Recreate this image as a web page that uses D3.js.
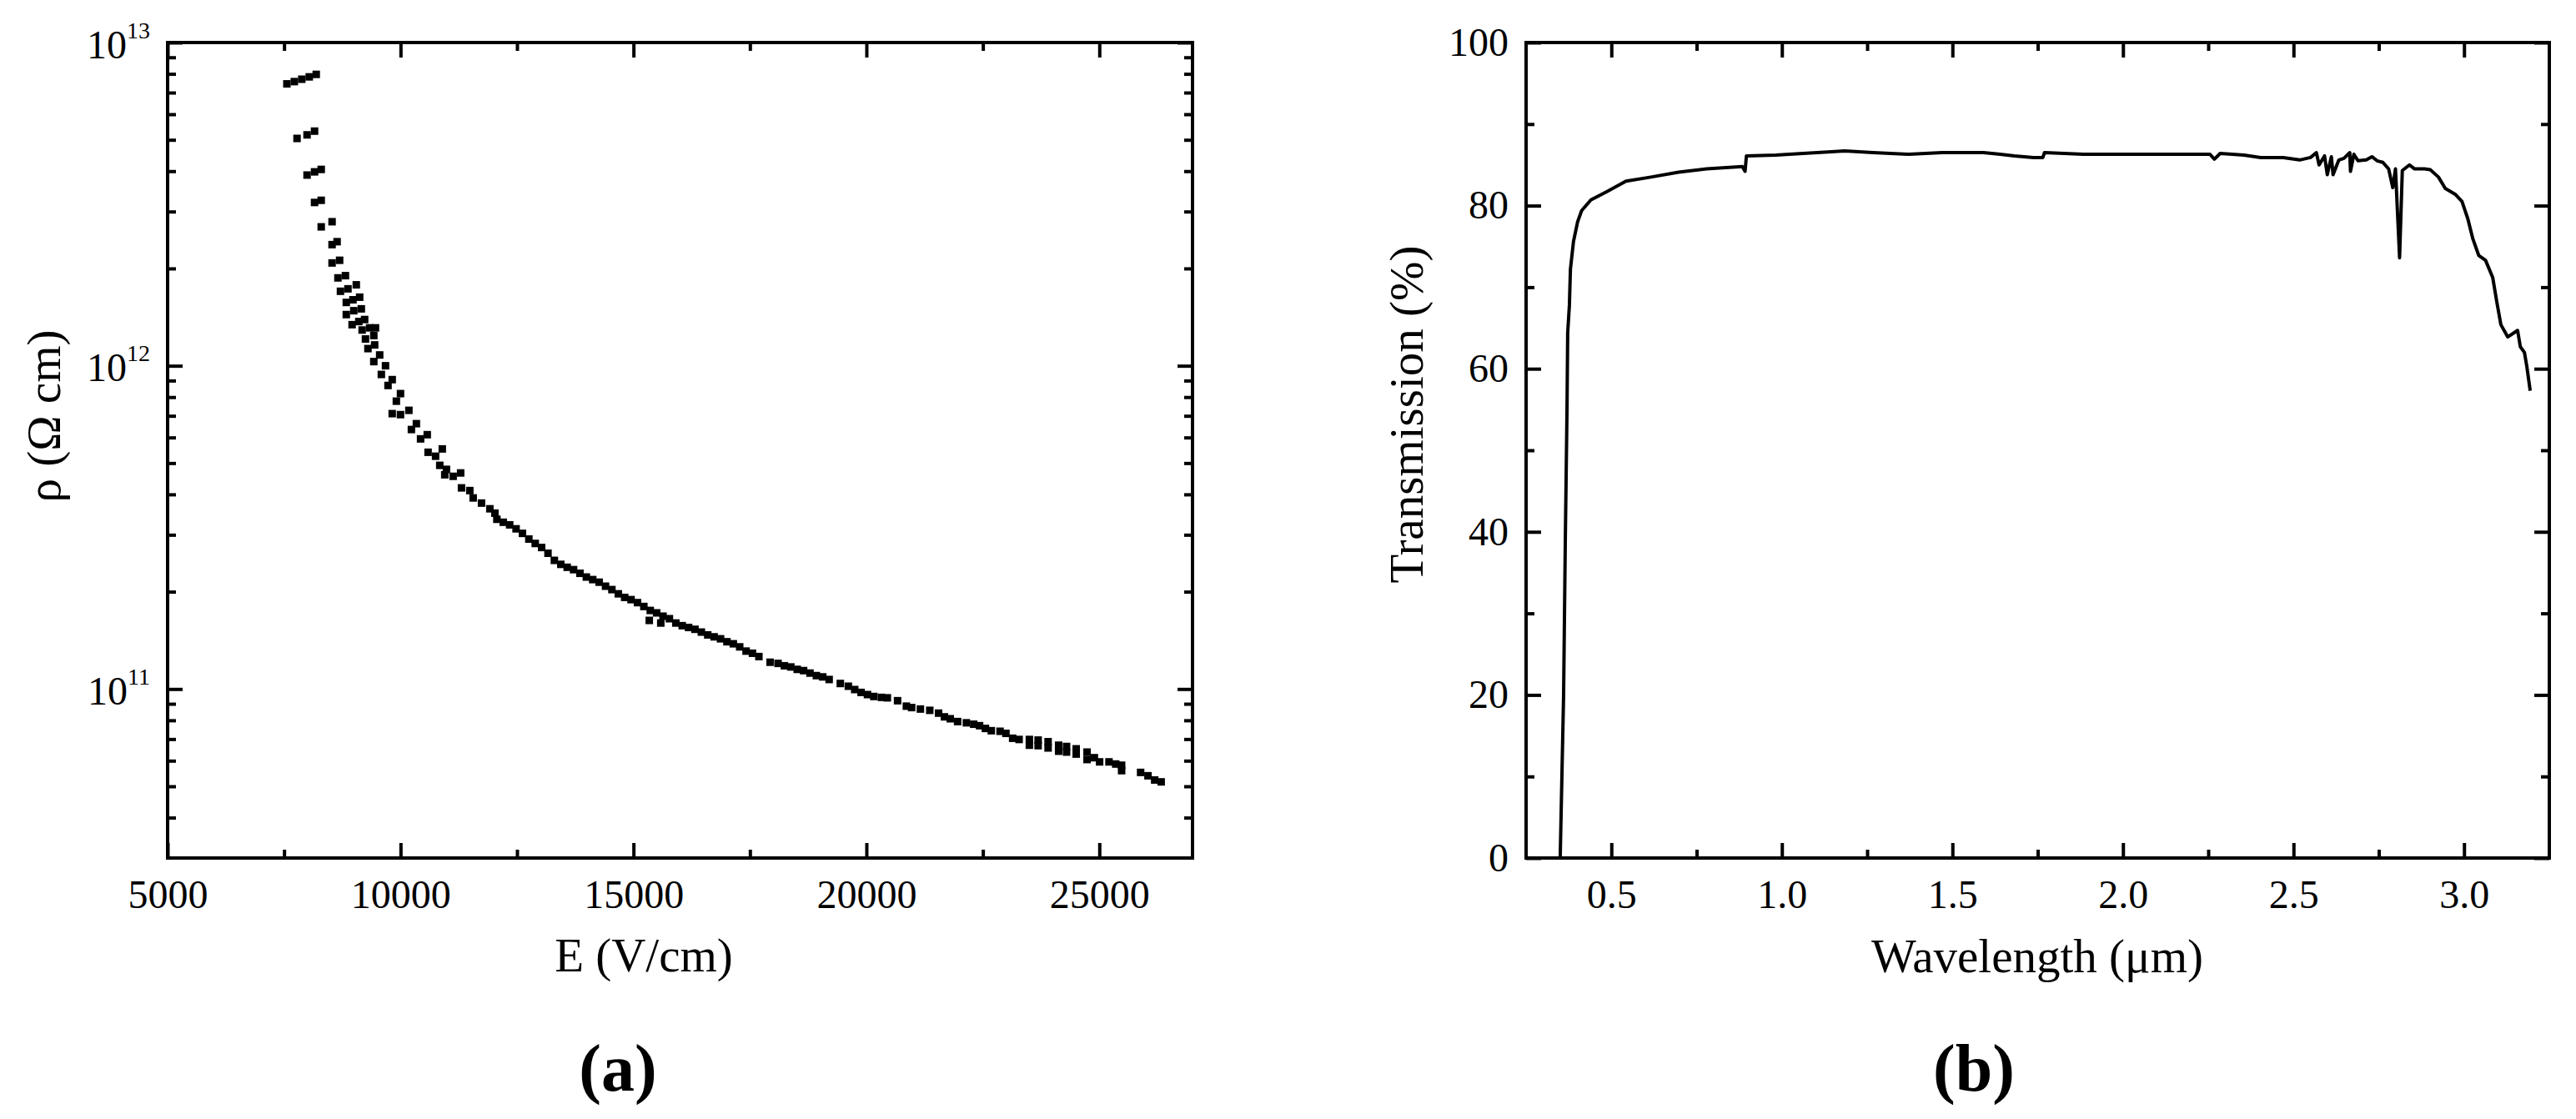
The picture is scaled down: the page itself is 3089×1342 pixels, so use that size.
<!DOCTYPE html>
<html>
<head>
<meta charset="utf-8">
<script src="https://cdnjs.cloudflare.com/ajax/libs/d3/7.8.5/d3.min.js"></script>
<style>
  html, body { margin: 0; padding: 0; background: #fff; }
  svg text { font-family: "Liberation Serif", "Times New Roman", serif; fill: #000; }
</style>
</head>
<body>
<svg id="chart"></svg>
<script>
// panel (a): resistivity vs electric field
const fieldE = [
  7560, 7720, 7880, 8040, 8190,
  7778, 7993, 8154,
  7993, 8154, 8297,
  8154, 8297, 8297, 8530,
  8530, 8638, 8530, 8692, 8656, 8817,
  8710, 8871, 9050, 8835, 8978, 9122,
  8835, 8996, 9158, 8960, 9104, 9229,
  9175, 9336, 9462, 9247, 9426, 9300, 9444,
  9426, 9552, 9588, 9677, 9731, 9821, 9821,
  9910, 9999, 9999, 10179, 10233, 10340, 10430, 10573,
  10591, 10752, 10896, 10842, 10985, 10949, 11129, 11290,
  11308, 11487, 11559, 11738, 11917, 12025,
  12068, 12205, 12342, 12480, 12617, 12754, 12891, 13028, 13165, 13302,
  13440, 13577, 13714, 13851, 13988, 14125, 14263, 14400, 14537, 14674,
  14811, 14948, 15086, 15223, 15360, 15497, 15634, 15771, 15909, 16046,
  16183, 16320, 16457, 16594, 16731, 16869, 17006, 17143, 17280, 17417,
  17554, 17692, 17932, 18103, 18240, 18377, 18515, 18652, 18789, 18926,
  19063, 19200, 19440, 19612, 19749, 19886, 20023, 20160,
  15339, 15586,
  20323, 20449, 20669, 20858, 20971, 21159, 21360, 21549, 21675, 21800,
  21958, 22146, 22303, 22429, 22555, 22681, 22869, 22995, 23139, 23278,
  23498, 23498, 23686, 23686, 23900, 23900, 24126, 24126, 24296, 24296,
  24503, 24503, 24736, 24736, 24893, 25006, 25207, 25352, 25478, 25478,
  25886, 26044, 26188, 26327
];
const resistivity = [
  7.45e12, 7.57e12, 7.70e12, 7.83e12, 7.97e12,
  5.05e12, 5.18e12, 5.32e12,
  3.89e12, 3.98e12, 4.05e12,
  3.20e12, 3.25e12, 2.69e12, 2.79e12,
  2.37e12, 2.42e12, 2.08e12, 2.12e12, 1.87e12, 1.90e12,
  1.70e12, 1.73e12, 1.78e12, 1.57e12, 1.60e12, 1.63e12,
  1.44e12, 1.48e12, 1.50e12, 1.34e12, 1.37e12, 1.39e12,
  1.29e12, 1.31e12, 1.31e12, 1.21e12, 1.24e12, 1.13e12, 1.16e12,
  1.03e12, 1.08e12, 9.4e11, 1.0e12, 8.69e11, 9.06e11, 7.11e11,
  7.77e11, 8.2e11, 7.06e11, 7.28e11, 6.35e11, 6.62e11, 5.94e11, 6.12e11,
  5.40e11, 5.25e11, 5.53e11, 4.92e11, 4.78e11, 4.60e11, 4.55e11, 4.66e11,
  4.19e11, 4.11e11, 3.90e11, 3.76e11, 3.61e11, 3.50e11,
  3.35e11, 3.28e11, 3.22e11, 3.13e11, 3.03e11, 2.91e11, 2.82e11, 2.74e11, 2.63e11, 2.50e11,
  2.43e11, 2.38e11, 2.34e11, 2.28e11, 2.22e11, 2.18e11, 2.14e11, 2.08e11, 2.03e11, 1.97e11,
  1.92e11, 1.89e11, 1.85e11, 1.80e11, 1.75e11, 1.72e11, 1.68e11, 1.65e11, 1.60e11, 1.57e11,
  1.55e11, 1.53e11, 1.50e11, 1.47e11, 1.45e11, 1.43e11, 1.40e11, 1.38e11, 1.35e11, 1.31e11,
  1.29e11, 1.26e11, 1.21e11, 1.20e11, 1.18e11, 1.17e11, 1.15e11, 1.14e11, 1.12e11, 1.10e11,
  1.09e11, 1.07e11, 1.04e11, 1.02e11, 9.96e10, 9.76e10, 9.61e10, 9.48e10,
  1.63e11, 1.60e11,
  9.42e10, 9.39e10, 9.20e10, 8.85e10, 8.76e10, 8.67e10, 8.59e10, 8.42e10, 8.20e10, 8.09e10,
  7.93e10, 7.86e10, 7.78e10, 7.70e10, 7.55e10, 7.43e10, 7.40e10, 7.29e10, 7.04e10, 6.98e10,
  6.98e10, 6.70e10, 6.95e10, 6.68e10, 6.87e10, 6.57e10, 6.70e10, 6.42e10, 6.64e10, 6.38e10,
  6.53e10, 6.29e10, 6.38e10, 6.05e10, 6.13e10, 5.95e10, 5.95e10, 5.86e10, 5.81e10, 5.59e10,
  5.52e10, 5.39e10, 5.23e10, 5.16e10
];

// panel (b): transmission spectrum
const wavelength = [
  0.300, 0.350, 0.360, 0.365, 0.370, 0.372, 0.377, 0.380, 0.389, 0.401,
  0.413, 0.440, 0.486, 0.543, 0.616, 0.697, 0.779, 0.884, 0.892, 0.896,
  0.982, 1.062, 1.145, 1.184, 1.267, 1.372, 1.470, 1.591, 1.640, 1.682,
  1.738, 1.765, 1.770, 1.884, 2.047, 2.209, 2.255, 2.268, 2.285, 2.355,
  2.404, 2.470, 2.518, 2.550, 2.567, 2.575, 2.591, 2.599, 2.611, 2.616,
  2.633, 2.648, 2.665, 2.667, 2.677, 2.689, 2.713, 2.730, 2.745, 2.762,
  2.779, 2.791, 2.799, 2.811, 2.819, 2.840, 2.855, 2.884, 2.901, 2.925,
  2.945, 2.974, 2.994, 3.011, 3.026, 3.043, 3.063, 3.084, 3.096, 3.108,
  3.128, 3.157, 3.165, 3.177, 3.184, 3.194
];
const transmission = [
  0, 0, 20, 38.9, 55.1, 64.4, 67.8, 72.2, 75.6, 78.0,
  79.4, 80.7, 81.7, 83.0, 83.5, 84.1, 84.5, 84.8, 84.2, 86.1,
  86.2, 86.4, 86.6, 86.7, 86.5, 86.3, 86.5, 86.5, 86.3, 86.1,
  85.9, 85.9, 86.5, 86.3, 86.3, 86.3, 86.3, 85.7, 86.4, 86.2,
  85.9, 85.9, 85.6, 85.9, 86.5, 85.0, 86.1, 83.8, 86.0, 83.8,
  85.6, 85.8, 86.5, 84.2, 86.3, 85.5, 85.6, 86.0, 85.5, 85.3,
  84.5, 82.2, 84.5, 73.6, 84.3, 85.0, 84.5, 84.5, 84.4, 83.5,
  82.1, 81.4, 80.5, 78.4, 75.9, 73.9, 73.3, 71.2, 68.2, 65.4,
  63.9, 64.7, 62.7, 62.0, 60.3, 57.3
];

// tick values
const fieldTicks = [5000, 10000, 15000, 20000, 25000];
const fieldMinor = [7500, 12500, 17500, 22500];
const rhoTicks = [1e11, 1e12, 1e13];
const rhoMinor = [4e10, 5e10, 6e10, 7e10, 8e10, 9e10,
  2e11, 3e11, 4e11, 5e11, 6e11, 7e11, 8e11, 9e11,
  2e12, 3e12, 4e12, 5e12, 6e12, 7e12, 8e12, 9e12];
const wlTicks = [0.5, 1.0, 1.5, 2.0, 2.5, 3.0];
const wlMinor = [0.75, 1.25, 1.75, 2.25, 2.75];
const trTicks = [0, 20, 40, 60, 80, 100];
const trMinor = [10, 30, 50, 70, 90];

const width = 3089;
const height = 1342;
const plotTop = 51;
const plotBottom = 1029;

const svg = d3.select('#chart').attr('width', width).attr('height', height);
svg.append('rect').attr('width', width).attr('height', height).attr('fill', '#fff');

// scales
const xA = d3.scaleLinear().domain([5000, 27000]).range([201, 1430]);
const yA = d3.scaleLog().domain([3e10, 1e13]).range([plotBottom, plotTop]);
const xB = d3.scaleLinear().domain([0.25, 3.25]).range([1830, 3057]);
const yB = d3.scaleLinear().domain([0, 100]).range([plotBottom, plotTop]);

// draws a closed frame with inward ticks on all four sides
function drawFrame(x, y, xMajor, xMinor, yMajor, yMinor, xFmt, yFmt) {
  const [x0, x1] = x.range();
  const g = svg.append('g');

  const style = sel => {
    sel.select('.domain').remove();
    sel.selectAll('line').attr('stroke', '#000').attr('stroke-width', 4);
    sel.attr('font-size', 48).attr('font-family', '"Liberation Serif", serif');
  };

  // bottom
  g.append('g').attr('transform', `translate(0,${plotBottom})`)
    .call(d3.axisBottom(x).tickValues(xMajor).tickSize(-18).tickPadding(26).tickFormat(xFmt)).call(style);
  g.append('g').attr('transform', `translate(0,${plotBottom})`)
    .call(d3.axisBottom(x).tickValues(xMinor).tickSize(-10).tickFormat('')).call(style);
  // top
  g.append('g').attr('transform', `translate(0,${plotTop})`)
    .call(d3.axisTop(x).tickValues(xMajor).tickSize(-18).tickFormat('')).call(style);
  g.append('g').attr('transform', `translate(0,${plotTop})`)
    .call(d3.axisTop(x).tickValues(xMinor).tickSize(-10).tickFormat('')).call(style);
  // left
  const left = g.append('g').attr('transform', `translate(${x0},0)`)
    .call(d3.axisLeft(y).tickValues(yMajor).tickSize(-18).tickPadding(21).tickFormat(yFmt)).call(style);
  g.append('g').attr('transform', `translate(${x0},0)`)
    .call(d3.axisLeft(y).tickValues(yMinor).tickSize(-10).tickFormat('')).call(style);
  // right
  g.append('g').attr('transform', `translate(${x1},0)`)
    .call(d3.axisRight(y).tickValues(yMajor).tickSize(-18).tickFormat('')).call(style);
  g.append('g').attr('transform', `translate(${x1},0)`)
    .call(d3.axisRight(y).tickValues(yMinor).tickSize(-10).tickFormat('')).call(style);

  // frame
  g.append('rect')
    .attr('x', x0).attr('y', plotTop)
    .attr('width', x1 - x0).attr('height', plotBottom - plotTop)
    .attr('fill', 'none').attr('stroke', '#000').attr('stroke-width', 4);

  return left;
}

// ---- panel (a) ----
const leftA = drawFrame(xA, yA, fieldTicks, fieldMinor, rhoTicks, rhoMinor, d3.format('d'), d => d);

// power-of-ten labels with superscript exponents
leftA.selectAll('.tick text').each(function (d) {
  const t = d3.select(this);
  t.text(null).attr('dy', '0.38em');
  t.append('tspan').text('10');
  t.append('tspan').attr('font-size', 28).attr('dy', -24).text(Math.round(Math.log10(d)));
});

const markerSize = 9;
const pointsA = fieldE.map((e, i) => [e, resistivity[i]]);
svg.append('g').selectAll('rect')
  .data(pointsA)
  .enter()
  .append('rect')
  .attr('x', d => xA(d[0]) - markerSize / 2)
  .attr('y', d => yA(d[1]) - markerSize / 2)
  .attr('width', markerSize)
  .attr('height', markerSize)
  .attr('fill', '#000');

svg.append('text')
  .attr('x', 772).attr('y', 1165)
  .attr('text-anchor', 'middle')
  .attr('font-size', 57)
  .text('E (V/cm)');

svg.append('text')
  .attr('transform', 'translate(72,499) rotate(-90)')
  .attr('text-anchor', 'middle')
  .attr('font-size', 57)
  .text('ρ (Ω cm)');

svg.append('text')
  .attr('x', 741).attr('y', 1308)
  .attr('text-anchor', 'middle')
  .attr('font-size', 80)
  .attr('font-weight', 'bold')
  .text('(a)');

// ---- panel (b) ----
drawFrame(xB, yB, wlTicks, wlMinor, trTicks, trMinor, d3.format('.1f'), d3.format('d'));

const pointsB = wavelength.map((w, i) => [w, transmission[i]]);
const line = d3.line()
  .x(d => xB(d[0]))
  .y(d => yB(d[1]));

svg.append('path')
  .datum(pointsB)
  .attr('fill', 'none')
  .attr('stroke', '#000')
  .attr('stroke-width', 4)
  .attr('stroke-linejoin', 'round')
  .attr('d', line);

svg.append('text')
  .attr('x', 2443).attr('y', 1166)
  .attr('text-anchor', 'middle')
  .attr('font-size', 57)
  .text('Wavelength (μm)');

svg.append('text')
  .attr('transform', 'translate(1706,497) rotate(-90)')
  .attr('text-anchor', 'middle')
  .attr('font-size', 57)
  .text('Transmission (%)');

svg.append('text')
  .attr('x', 2367).attr('y', 1308)
  .attr('text-anchor', 'middle')
  .attr('font-size', 80)
  .attr('font-weight', 'bold')
  .text('(b)');
</script>
</body>
</html>
